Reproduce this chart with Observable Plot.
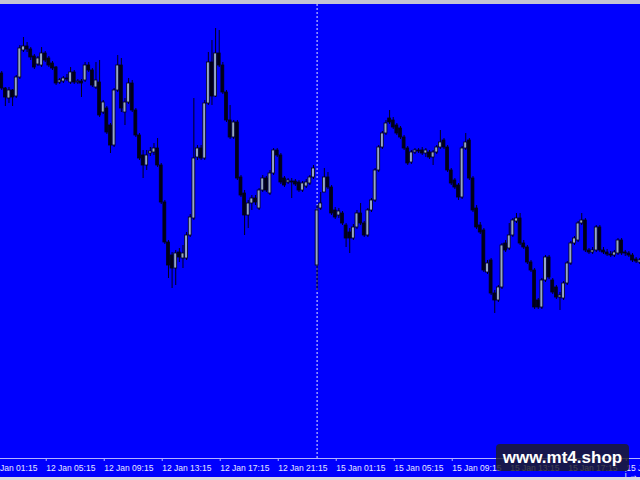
<!DOCTYPE html>
<html><head><meta charset="utf-8">
<script src="https://cdn.jsdelivr.net/npm/d3@7"></script>
<script src="https://cdn.jsdelivr.net/npm/@observablehq/plot@0.6"></script>
<style>
html,body{margin:0;padding:0;background:#0000fe;}
#wrap{position:relative;width:640px;height:480px;overflow:hidden;background:#0000fe;}
#wrap svg{display:block;}
.chrome-top{position:absolute;left:0;top:0;width:640px;height:4px;background:#c4c4d4;}
.chrome-bot{position:absolute;left:0;top:477px;width:640px;height:3px;background:#d8d8e4;}
.wm{position:absolute;left:496px;top:444px;width:133px;height:27px;border-radius:4px;background:rgba(28,28,38,0.82);color:#fff;font:bold 17px "Liberation Sans",Arial,sans-serif;text-align:center;line-height:27px;}
</style></head><body><div id="wrap"></div>
<script>
// M15 bars, 12 Jan 02:00 .. 15 Jan 22:15 (bar index 0..177)
const open = [1.2422,1.2427,1.2412,1.2402,1.2410,1.2404,1.2423,1.2450,1.2454,1.2451,
1.2444,1.2436,1.2435,1.2447,1.2442,1.2437,1.2433,1.2418,1.2419,1.2422,
1.2418,1.2428,1.2418,1.2419,1.2420,1.2435,1.2430,1.2413,1.2418,1.2388,
1.2392,1.2375,1.2355,1.2410,1.2435,1.2388,1.2398,1.2417,1.2390,1.2365,
1.2345,1.2335,1.2347,1.2348,1.2352,1.2335,1.2298,1.2258,1.2245,1.2232,
1.2248,1.2242,1.2242,1.2265,1.2282,1.2343,1.2352,1.2342,1.2397,1.2438,
1.2404,1.2447,1.2435,1.2408,1.2380,1.2363,1.2378,1.2323,1.2307,1.2285,
1.2297,1.2302,1.2292,1.2310,1.2322,1.2307,1.2327,1.2350,1.2345,1.2322,
1.2318,1.2319,1.2319,1.2318,1.2310,1.2314,1.2317,1.2323,1.2235,1.2292,
1.2308,1.2323,1.2313,1.2290,1.2285,1.2287,1.2275,1.2268,1.2262,1.2273,
1.2287,1.2277,1.2265,1.2290,1.2300,1.2330,1.2353,1.2367,1.2382,1.2380,
1.2375,1.2372,1.2363,1.2352,1.2338,1.2348,1.2350,1.2350,1.2347,1.2348,
1.2343,1.2348,1.2353,1.2360,1.2353,1.2330,1.2320,1.2315,1.2303,1.2352,
1.2360,1.2322,1.2292,1.2275,1.2270,1.2228,1.2240,1.2207,1.2200,1.2213,
1.2257,1.2252,1.2265,1.2279,1.2282,1.2257,1.2253,1.2238,1.2230,1.2200,
1.2193,1.2220,1.2243,1.2220,1.2213,1.2203,1.2202,1.2217,1.2237,1.2257,
1.2260,1.2277,1.2280,1.2250,1.2248,1.2250,1.2273,1.2250,1.2248,1.2246,
1.2245,1.2247,1.2260,1.2248,1.2247,1.2245,1.2241,1.2238];
const high = [1.2430,1.2429,1.2413,1.2413,1.2411,1.2425,1.2455,1.2463,1.2458,1.2453,
1.2446,1.2444,1.2453,1.2449,1.2444,1.2439,1.2434,1.2422,1.2424,1.2426,
1.2433,1.2430,1.2421,1.2421,1.2438,1.2438,1.2432,1.2438,1.2440,1.2400,
1.2394,1.2377,1.2412,1.2445,1.2442,1.2402,1.2422,1.2420,1.2392,1.2367,
1.2350,1.2350,1.2353,1.2357,1.2362,1.2337,1.2300,1.2260,1.2248,1.2250,
1.2252,1.2255,1.2268,1.2286,1.2402,1.2355,1.2355,1.2400,1.2448,1.2460,
1.2472,1.2470,1.2438,1.2410,1.2395,1.2380,1.2380,1.2325,1.2310,1.2300,
1.2305,1.2305,1.2312,1.2325,1.2324,1.2330,1.2352,1.2352,1.2347,1.2324,
1.2322,1.2322,1.2321,1.2320,1.2319,1.2321,1.2325,1.2335,1.2295,1.2308,
1.2332,1.2328,1.2315,1.2293,1.2292,1.2289,1.2277,1.2272,1.2276,1.2290,
1.2297,1.2279,1.2292,1.2302,1.2332,1.2355,1.2369,1.2380,1.2390,1.2383,
1.2377,1.2374,1.2365,1.2354,1.2350,1.2352,1.2352,1.2353,1.2352,1.2350,
1.2350,1.2355,1.2370,1.2362,1.2355,1.2332,1.2322,1.2317,1.2354,1.2367,
1.2362,1.2324,1.2295,1.2278,1.2272,1.2240,1.2242,1.2210,1.2215,1.2257,
1.2260,1.2277,1.2282,1.2287,1.2287,1.2260,1.2255,1.2240,1.2232,1.2202,
1.2222,1.2245,1.2245,1.2222,1.2215,1.2208,1.2219,1.2239,1.2259,1.2264,
1.2279,1.2287,1.2282,1.2252,1.2253,1.2275,1.2275,1.2253,1.2251,1.2249,
1.2250,1.2262,1.2262,1.2250,1.2249,1.2247,1.2243,1.2242];
const low = [1.2420,1.2410,1.2394,1.2397,1.2394,1.2402,1.2421,1.2448,1.2448,1.2440,
1.2431,1.2434,1.2433,1.2438,1.2433,1.2430,1.2415,1.2416,1.2417,1.2419,
1.2416,1.2416,1.2416,1.2403,1.2418,1.2428,1.2413,1.2411,1.2383,1.2386,
1.2366,1.2347,1.2353,1.2408,1.2388,1.2375,1.2396,1.2388,1.2363,1.2340,
1.2322,1.2330,1.2344,1.2345,1.2333,1.2296,1.2256,1.2222,1.2212,1.2215,
1.2238,1.2232,1.2240,1.2263,1.2280,1.2340,1.2340,1.2340,1.2395,1.2395,
1.2403,1.2433,1.2406,1.2378,1.2361,1.2361,1.2320,1.2303,1.2265,1.2272,
1.2290,1.2295,1.2290,1.2308,1.2308,1.2305,1.2325,1.2343,1.2316,1.2313,
1.2316,1.2302,1.2314,1.2308,1.2308,1.2312,1.2315,1.2321,1.2210,1.2290,
1.2308,1.2311,1.2285,1.2281,1.2282,1.2275,1.2253,1.2247,1.2260,1.2271,
1.2275,1.2263,1.2263,1.2288,1.2298,1.2328,1.2351,1.2365,1.2376,1.2371,
1.2365,1.2361,1.2350,1.2335,1.2336,1.2346,1.2347,1.2345,1.2343,1.2341,
1.2335,1.2346,1.2351,1.2351,1.2328,1.2315,1.2311,1.2300,1.2301,1.2350,
1.2320,1.2288,1.2271,1.2266,1.2228,1.2226,1.2205,1.2187,1.2198,1.2211,
1.2248,1.2250,1.2263,1.2277,1.2255,1.2251,1.2236,1.2228,1.2191,1.2191,
1.2191,1.2218,1.2221,1.2206,1.2201,1.2190,1.2200,1.2215,1.2235,1.2255,
1.2258,1.2275,1.2248,1.2246,1.2246,1.2248,1.2248,1.2246,1.2244,1.2243,
1.2243,1.2245,1.2245,1.2244,1.2243,1.2238,1.2237,1.2236];
const close = [1.2427,1.2412,1.2403,1.2410,1.2403,1.2423,1.2452,1.2454,1.2451,1.2443,
1.2433,1.2442,1.2447,1.2440,1.2435,1.2432,1.2417,1.2420,1.2422,1.2421,
1.2428,1.2418,1.2419,1.2417,1.2435,1.2430,1.2415,1.2420,1.2385,1.2398,
1.2368,1.2355,1.2410,1.2435,1.2392,1.2398,1.2417,1.2390,1.2365,1.2342,
1.2335,1.2345,1.2349,1.2352,1.2335,1.2298,1.2258,1.2235,1.2232,1.2247,
1.2243,1.2247,1.2265,1.2283,1.2342,1.2352,1.2342,1.2397,1.2438,1.2404,
1.2447,1.2435,1.2408,1.2380,1.2363,1.2378,1.2322,1.2305,1.2285,1.2297,
1.2302,1.2298,1.2310,1.2322,1.2310,1.2327,1.2350,1.2345,1.2318,1.2315,
1.2320,1.2318,1.2316,1.2310,1.2317,1.2318,1.2323,1.2332,1.2290,1.2297,
1.2323,1.2313,1.2287,1.2283,1.2289,1.2277,1.2262,1.2262,1.2273,1.2287,
1.2277,1.2265,1.2290,1.2300,1.2330,1.2353,1.2367,1.2377,1.2378,1.2373,
1.2367,1.2363,1.2352,1.2337,1.2348,1.2350,1.2349,1.2347,1.2350,1.2343,
1.2348,1.2353,1.2358,1.2353,1.2330,1.2317,1.2313,1.2303,1.2352,1.2358,
1.2322,1.2290,1.2273,1.2268,1.2230,1.2237,1.2207,1.2200,1.2213,1.2255,
1.2250,1.2265,1.2280,1.2282,1.2257,1.2253,1.2238,1.2230,1.2193,1.2193,
1.2220,1.2243,1.2223,1.2208,1.2203,1.2205,1.2217,1.2237,1.2257,1.2262,
1.2277,1.2280,1.2250,1.2248,1.2250,1.2273,1.2250,1.2248,1.2246,1.2245,
1.2248,1.2260,1.2247,1.2247,1.2245,1.2240,1.2239,1.2240];

const tickBars = [-3, 13, 29, 45, 61, 77, 93, 109, 125, 141, 157, 173];
const tickLabels = ["12 Jan 01:15","12 Jan 05:15","12 Jan 09:15","12 Jan 13:15","12 Jan 17:15","12 Jan 21:15",
                    "15 Jan 01:15","15 Jan 05:15","15 Jan 09:15","15 Jan 13:15","15 Jan 17:15","15 Jan 21:15"];
const separatorBars = [88]; // 15 Jan 00:00
const watermark = "www.mt4.shop";

const bars = open.map((o, i) => ({i, open: o, high: high[i], low: low[i], close: close[i]}));
const bull = bars.filter(d => d.close >= d.open);
const bear = bars.filter(d => d.close < d.open);

const chart = Plot.plot({
  width: 640, height: 480,
  marginTop: 0, marginBottom: 22, marginLeft: 0, marginRight: 0,
  style: {background: "#0000fe", color: "#e8e8ff", fontFamily: "'Liberation Sans', Arial, sans-serif", fontSize: "8.5px", overflow: "hidden"},
  x: {type: "linear", domain: [0.662, 177.21], axis: null},
  y: {domain: [1.2042, 1.25], axis: null},
  marks: [
    Plot.ruleX(separatorBars, {stroke: "#e8e8ff", strokeDasharray: "2,2", strokeWidth: 1}),
    Plot.ruleX(bars, {x: "i", y1: "low", y2: "high", stroke: "#000018", strokeWidth: 1}),
    Plot.rect(bear, {x1: d => d.i - 0.4, x2: d => d.i + 0.4, y1: "open", y2: "close", fill: "#000018", stroke: "#000018", strokeWidth: 0.8}),
    Plot.rect(bull, {x1: d => d.i - 0.4, x2: d => d.i + 0.4, y1: "open", y2: "close", fill: "#96a6c6", stroke: "#000018", strokeWidth: 0.8}),
    Plot.frame({anchor: "bottom", stroke: "#b4b4ff"}),
    Plot.axisX(tickBars, {anchor: "bottom", tickSize: 3, tickPadding: 3, textAnchor: "start", dx: 1,
      stroke: "#b4b4ff", fill: "#e8e8ff",
      tickFormat: d => tickLabels[tickBars.indexOf(d)]})
  ]
});

const wrapEl = document.getElementById("wrap");
wrapEl.appendChild(chart);
const chromeTop = document.createElement("div"); chromeTop.className = "chrome-top"; wrapEl.appendChild(chromeTop);
const chromeBot = document.createElement("div"); chromeBot.className = "chrome-bot"; wrapEl.appendChild(chromeBot);
const wmEl = document.createElement("div"); wmEl.className = "wm"; wmEl.textContent = watermark; wrapEl.appendChild(wmEl);
</script>
</body></html>
